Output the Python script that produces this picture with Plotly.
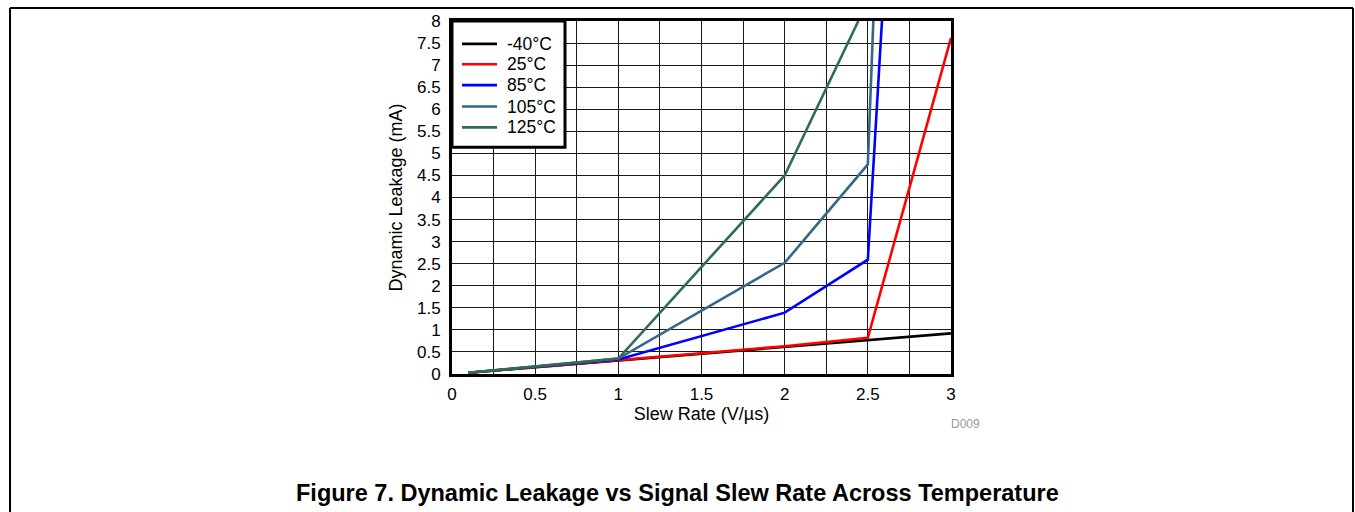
import plotly.graph_objects as go

# Data
series_names = ["-40°C", "25°C", "85°C", "105°C", "125°C"]
series_colors = ["#000000", "#FF0000", "#0000FF", "#336985", "#2E6E50"]

x_m40 = [0.1, 1.0, 2.0, 2.5, 3.0]
y_m40 = [0.03, 0.31, 0.61, 0.77, 0.92]

x_25 = [0.1, 1.0, 2.0, 2.5, 3.0]
y_25 = [0.03, 0.31, 0.63, 0.82, 7.62]

x_85 = [0.1, 1.0, 2.0, 2.5, 2.585]
y_85 = [0.03, 0.33, 1.39, 2.59, 8.0]

x_105 = [0.1, 1.0, 2.0, 2.5, 2.533]
y_105 = [0.03, 0.35, 2.52, 4.75, 8.0]

x_125 = [0.1, 1.0, 2.0, 2.443]
y_125 = [0.03, 0.35, 4.5, 8.0]

x_ticks = [0, 0.5, 1, 1.5, 2, 2.5, 3]
x_tick_labels = ["0", "0.5", "1", "1.5", "2", "2.5", "3"]
y_ticks = [0, 0.5, 1, 1.5, 2, 2.5, 3, 3.5, 4, 4.5, 5, 5.5, 6, 6.5, 7, 7.5, 8]
y_tick_labels = ["0", "0.5", "1", "1.5", "2", "2.5", "3", "3.5", "4", "4.5",
                 "5", "5.5", "6", "6.5", "7", "7.5", "8"]

xs = [x_m40, x_25, x_85, x_105, x_125]
ys = [y_m40, y_25, y_85, y_105, y_125]

W, H = 1355, 512
L, R, T, B = 452, 951, 19, 374  # plot area pixels

FONT = "Liberation Sans, Arial, sans-serif"

fig = go.Figure()
for name, color, xv, yv in zip(series_names, series_colors, xs, ys):
    fig.add_trace(go.Scatter(x=xv, y=yv, mode="lines", name=name, showlegend=False,
                             line=dict(color=color, width=2.6)))


def px_x(p):
    return (p - L) / (R - L)


def px_y(p):
    return (B - p) / (B - T)


fig.update_layout(
    width=W, height=H,
    margin=dict(l=L, r=W - R, t=T, b=H - B, pad=0),
    paper_bgcolor="white", plot_bgcolor="white",
    font=dict(family=FONT, size=17, color="black"),
    showlegend=False,
    xaxis=dict(range=[0, 3], tickmode="array", tickvals=x_ticks, ticktext=x_tick_labels,
               showgrid=True, gridcolor="#1a1a1a", gridwidth=1,
               minor=dict(dtick=0.25, showgrid=True, gridcolor="#1a1a1a", gridwidth=1),
               showline=True, linecolor="black", linewidth=3, mirror=True,
               zeroline=False, ticks="", ticklen=0, ticklabelstandoff=3,
               tickfont=dict(family=FONT, size=17),
               title=dict(text="Slew Rate (V/µs)", font=dict(family=FONT, size=18), standoff=4)),
    yaxis=dict(range=[0, 8], tickmode="array", tickvals=y_ticks, ticktext=y_tick_labels,
               showgrid=True, gridcolor="#1a1a1a", gridwidth=1,
               showline=True, linecolor="black", linewidth=3, mirror=True,
               zeroline=False, ticks="", ticklen=0, ticklabelstandoff=5,
               tickfont=dict(family=FONT, size=17),
               title=dict(text="Dynamic Leakage (mA)", font=dict(family=FONT, size=18), standoff=10)),
)

# Legend box (drawn on top of the grid)
fig.add_shape(type="rect", xref="paper", yref="paper", layer="above",
              x0=px_x(452), y0=px_y(146), x1=px_x(565), y1=px_y(19),
              fillcolor="white", line=dict(color="black", width=3))
legend_rows = [42, 62.5, 83.5, 105, 126]
for name, color, ry in zip(series_names, series_colors, legend_rows):
    fig.add_shape(type="line", xref="paper", yref="paper", layer="above",
                  x0=px_x(462), x1=px_x(497), y0=px_y(ry), y1=px_y(ry),
                  line=dict(color=color, width=2.6))
    fig.add_annotation(xref="paper", yref="paper", x=px_x(505), y=px_y(ry),
                       text=name, showarrow=False, xanchor="left", yanchor="middle",
                       font=dict(family=FONT, size=17.5, color="black"))

# Outer frame (left, top, right lines)
fl, fr, ft, fb = px_x(10), px_x(1353), px_y(6), px_y(520)
for x0, y0, x1, y1 in [(fl, fb, fl, ft), (fl, ft, fr, ft), (fr, ft, fr, fb)]:
    fig.add_shape(type="line", xref="paper", yref="paper", x0=x0, y0=y0, x1=x1, y1=y1,
                  line=dict(color="black", width=2))

fig.add_annotation(xref="paper", yref="paper", x=px_x(965), y=px_y(424),
                   text="D009", showarrow=False, xanchor="center", yanchor="middle",
                   font=dict(family=FONT, size=12, color="#999999"))

fig.add_annotation(xref="paper", yref="paper", x=px_x(677), y=px_y(494),
                   text="<b>Figure 7. Dynamic Leakage vs Signal Slew Rate Across Temperature</b>",
                   showarrow=False, xanchor="center", yanchor="middle",
                   font=dict(family=FONT, size=23.5, color="black"))

fig.write_html("out.html", config={"displayModeBar": False},
               post_script="document.body.style.margin='0';document.body.style.overflow='hidden';")
